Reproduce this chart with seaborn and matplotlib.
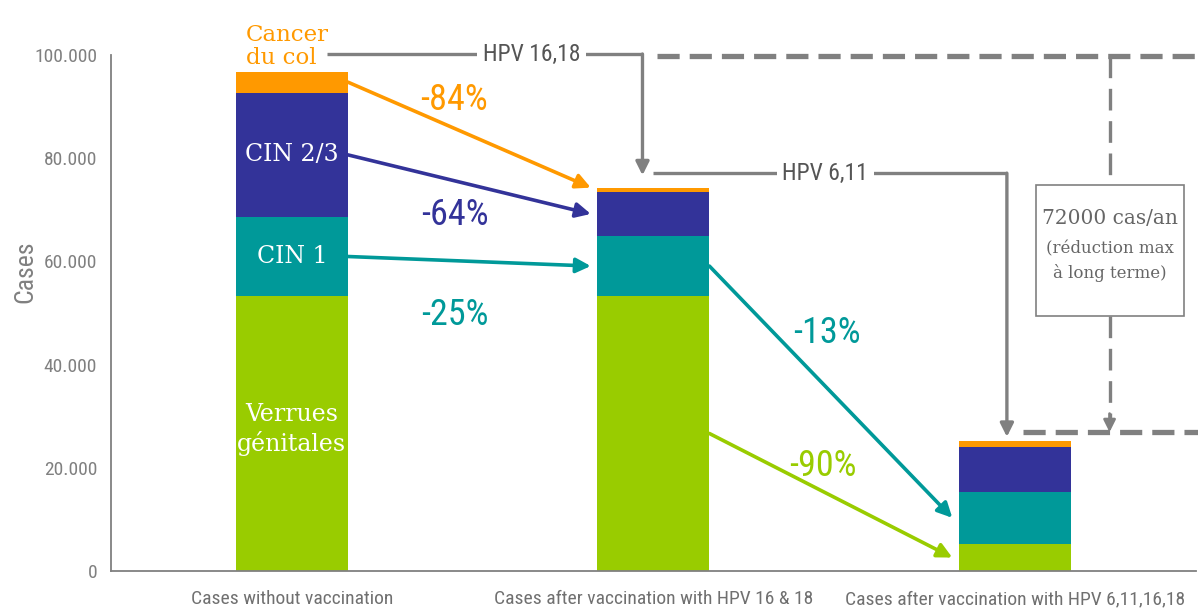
import matplotlib
matplotlib.use("Agg")
import matplotlib.pyplot as plt
import pandas as pd
import seaborn as sns
from matplotlib import font_manager
from matplotlib.patches import Rectangle
from matplotlib.ticker import FixedLocator, FuncFormatter

# --- data (cases per year) ---
categories = [
    "Cases without vaccination",
    "Cases after vaccination with HPV 16 & 18",
    "Cases after vaccination with HPV 6,11,16,18",
]
verrues = [53300, 53300, 5200]
cin1 = [15300, 11600, 10200]
cin23 = [24100, 8600, 8700]
cancer = [4100, 800, 1000]

layer_labels = ["Verrues\ngénitales", "CIN 1", "CIN 2/3", "Cancer\ndu col"]
layer_colors = ["#99cc00", "#009999", "#333399", "#ff9900"]

# arrows between bars: (layer index, from bar, to bar, label)
reductions = [
    (3, 0, 1, "-84%"),
    (2, 0, 1, "-64%"),
    (1, 0, 1, "-25%"),
    (1, 1, 2, "-13%"),
    (0, 1, 2, "-90%"),
]
# label positions (x in category units, y in cases)
reduction_label_pos = [(0.45, 91300), (0.45, 69000), (0.45, 49600), (1.48, 46100), (1.47, 20300)]

GREY = "#808080"
BAR_W = 0.31


def pick_narrow():
    names = {f.name for f in font_manager.fontManager.ttflist}
    for n in ["Liberation Sans Narrow", "Roboto Condensed", "Open Sans Condensed", "Noto Sans Condensed"]:
        if n in names:
            return dict(family=n)
    return dict(family="DejaVu Sans", stretch="condensed")


NARROW = pick_narrow()
SERIF = dict(family="DejaVu Serif")

layers = [verrues, cin1, cin23, cancer]
tops = []
run = [0, 0, 0]
for layer in layers:
    bottoms = run[:]
    run = [a + b for a, b in zip(run, layer)]
    tops.append((bottoms, run[:]))

sns.set_style("white")
fig, ax = plt.subplots(figsize=(11.98, 6.08), dpi=100)
fig.subplots_adjust(left=0.0927, right=0.998, bottom=0.0609, top=0.9095)

# stacked bars: draw cumulative totals from the top layer down
for k in range(len(layers) - 1, -1, -1):
    df = pd.DataFrame({"cat": categories, "val": tops[k][1]})
    sns.barplot(data=df, x="cat", y="val", color=layer_colors[k], saturation=1,
                width=BAR_W, errorbar=None, linewidth=0, edgecolor="none", ax=ax, zorder=2)

ax.set_xlim(-0.5, 2.5)
ax.set_ylim(0, 100000)

# axes styling
for s in ["top", "right"]:
    ax.spines[s].set_visible(False)
for s in ["left", "bottom"]:
    ax.spines[s].set_color(GREY)
    ax.spines[s].set_linewidth(1.3)

ax.yaxis.set_major_locator(FixedLocator([0, 20000, 40000, 60000, 80000, 100000]))
ax.yaxis.set_major_formatter(FuncFormatter(lambda v, p: "0" if v == 0 else f"{int(v):,}".replace(",", ".")))
ax.tick_params(axis="y", direction="out", length=6, width=1.3, color=GREY, labelcolor=GREY, pad=4)
for lab in ax.get_yticklabels():
    lab.set_fontproperties(font_manager.FontProperties(size=14, **NARROW))

ax.set_xticks([-0.5, 0.5, 1.5, 2.5])
ax.set_xticklabels([])
ax.set_xticks([0, 1, 2], minor=True)
ax.set_xticklabels(categories, minor=True)
ax.tick_params(axis="x", which="major", direction="out", length=7, width=1.3, color=GREY)
ax.tick_params(axis="x", which="minor", length=0, pad=14, labelcolor="#707070")
for lab in ax.get_xticklabels(minor=True):
    lab.set_fontproperties(font_manager.FontProperties(size=14, **NARROW))
ax.set_xlabel("")
ax.set_ylabel("Cases", color=GREY, fontsize=18.5, **NARROW)
ax.yaxis.set_label_coords(-0.068, 0.58)

# labels inside / above the first bar
for k in range(3):
    b, t = tops[k][0][0], tops[k][1][0]
    ymid = (b + t) / 2 + (800 if k == 0 else 0)
    ax.text(0, ymid, layer_labels[k], color="white", ha="center", va="center",
            fontsize=17, linespacing=1.25, zorder=4, **SERIF)
ax.text(-0.127, tops[3][1][0] + 500, layer_labels[3], color=layer_colors[3], ha="left", va="bottom",
        fontsize=16.5, linespacing=1.05, zorder=4, clip_on=False, **SERIF)

# reduction arrows between segments
for (k, i, j, lab), (lx, ly) in zip(reductions, reduction_label_pos):
    y0 = (tops[k][0][i] + tops[k][1][i]) / 2
    y1 = (tops[k][0][j] + tops[k][1][j]) / 2
    if k == 3:
        y1 = tops[k][1][j]
    ax.annotate("", xy=(j - BAR_W / 2 - 0.018, y1), xytext=(i + BAR_W / 2, y0),
                arrowprops=dict(arrowstyle="-|>", color=layer_colors[k], lw=2.6,
                                mutation_scale=22, shrinkA=0, shrinkB=0),
                zorder=3, annotation_clip=False)
    ax.text(lx, ly, lab, color=layer_colors[k], ha="center", va="center", fontsize=26, **NARROW)

# HPV 16,18 connector
line_kw = dict(color=GREY, lw=2.4, solid_capstyle="butt", clip_on=False, zorder=1)
ax.plot([0.097, 0.97], [100200, 100200], **line_kw)
ax.annotate("", xy=(0.97, 76700), xytext=(0.97, 100200),
            arrowprops=dict(arrowstyle="-|>", color=GREY, lw=2.4, mutation_scale=20, shrinkA=0, shrinkB=0),
            annotation_clip=False)
ax.text(0.663, 100200, "HPV 16,18", color="#555555", ha="center", va="center", fontsize=17,
        bbox=dict(facecolor="white", edgecolor="none", pad=4), zorder=3, clip_on=False, **NARROW)

# HPV 6,11 connector
ax.plot([1.0, 1.978], [77100, 77100], **line_kw)
ax.annotate("", xy=(1.978, 26000), xytext=(1.978, 77100),
            arrowprops=dict(arrowstyle="-|>", color=GREY, lw=2.4, mutation_scale=20, shrinkA=0, shrinkB=0),
            annotation_clip=False)
ax.text(1.475, 77100, "HPV 6,11", color="#555555", ha="center", va="center", fontsize=17,
        bbox=dict(facecolor="white", edgecolor="none", pad=4), zorder=3, clip_on=False, **NARROW)

# dashed reduction bracket
dash_kw = dict(color=GREY, lw=3.8, dashes=(4.2, 1.9), clip_on=False, zorder=1)
ax.plot([1.011, 2.51], [99800, 99800], **dash_kw)
ax.plot([2.022, 2.51], [26900, 26900], **dash_kw)
vdash_kw = dict(color=GREY, lw=2.4, dashes=(6.5, 3.2), clip_on=False, zorder=1)
ax.plot([2.262, 2.262], [99800, 74800], **vdash_kw)
ax.plot([2.262, 2.262], [49400, 29500], **vdash_kw)
ax.annotate("", xy=(2.262, 26900), xytext=(2.262, 30500),
            arrowprops=dict(arrowstyle="-|>", color=GREY, lw=2.0, mutation_scale=18, shrinkA=0, shrinkB=0),
            annotation_clip=False)

box = Rectangle((2.058, 49400), 0.409, 25400, facecolor="white", edgecolor=GREY, lw=1.2,
                clip_on=False, zorder=2)
ax.add_patch(box)
ax.text(2.262, 68400, "72000 cas/an", color="#666666", ha="center", va="center", fontsize=14.5,
        zorder=3, **SERIF)
ax.text(2.262, 60000, "(réduction max\nà long terme)", color="#666666", ha="center", va="center",
        fontsize=12, linespacing=1.45, zorder=3, **SERIF)

fig.savefig("out.png", dpi=100)
